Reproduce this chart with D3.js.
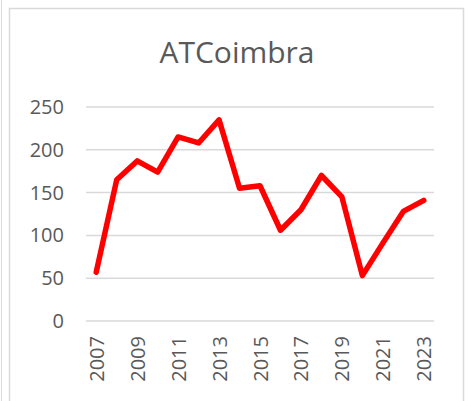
<!DOCTYPE html>
<html>
<head>
<meta charset="utf-8">
<script src="https://cdn.jsdelivr.net/npm/d3@7"></script>
<style>
  body { margin: 0; background: #fff; }
  svg { display: block; }
</style>
</head>
<body>
<svg id="chart" width="468" height="401"></svg>
<script>
// chart data
var years = ["2007","2008","2009","2010","2011","2012","2013","2014","2015",
             "2016","2017","2018","2019","2020","2021","2022","2023"];
var values = [57, 165, 187, 174, 215, 208, 235, 155, 158,
              106, 130, 170, 145, 53, 91, 128, 141];
var yTicks = [0, 50, 100, 150, 200, 250];
var xLabels = ["2007","2009","2011","2013","2015","2017","2019","2021","2023"];

var svg = d3.select("#chart");
var font = "'Open Sans', sans-serif";
var textCol = "#595959";

// outer frame bits
svg.append("line").attr("x1", 1.5).attr("x2", 1.5).attr("y1", 0).attr("y2", 401)
  .style("stroke", "#d9d9d9").style("stroke-width", 1);
svg.append("path").attr("d", "M9.5,401 V8.5 H463.5 V401")
  .style("fill", "none").style("stroke", "#d9d9d9").style("stroke-width", 1.5);

var x = d3.scalePoint().domain(years).range([86, 434]).padding(0.5);
var y = d3.scaleLinear().domain([0, 250]).range([321, 107]);

// gridlines
svg.append("g").selectAll("line").data(yTicks).enter().append("line")
  .attr("x1", 86).attr("x2", 434)
  .attr("y1", function(d){ return y(d); }).attr("y2", function(d){ return y(d); })
  .style("stroke", "#d9d9d9").style("stroke-width", 1.5);

// y axis labels
var yAxis = d3.axisLeft(y).tickValues(yTicks).tickSize(0).tickPadding(0);
var gy = svg.append("g").attr("transform", "translate(64,0)").call(yAxis);
gy.select(".domain").remove();
gy.selectAll("text").style("font-family", font).style("font-size", "20px").style("fill", textCol);

// x axis labels (rotated)
var xAxis = d3.axisBottom(x).tickValues(xLabels).tickSize(0).tickPadding(0);
var gx = svg.append("g").attr("transform", "translate(0,336)").call(xAxis);
gx.select(".domain").remove();
gx.selectAll("text")
  .attr("transform", "rotate(-90)")
  .attr("x", 0).attr("y", 0).attr("dy", "0.35em").attr("dx", 0)
  .style("text-anchor", "end")
  .style("font-family", font).style("font-size", "20px").style("fill", textCol);

// line
var line = d3.line()
  .x(function(d, i){ return x(years[i]); })
  .y(function(d){ return y(d); });
svg.append("path").datum(values).attr("d", line)
  .style("fill", "none").style("stroke", "#ff0000").style("stroke-width", 5.5)
  .style("stroke-linejoin", "round").style("stroke-linecap", "round");

// title
svg.append("text").attr("x", 237).attr("y", 63).attr("text-anchor", "middle")
  .style("font-family", font).style("font-size", "30px").style("fill", textCol)
  .text("ATCoimbra");
</script>
</body>
</html>
